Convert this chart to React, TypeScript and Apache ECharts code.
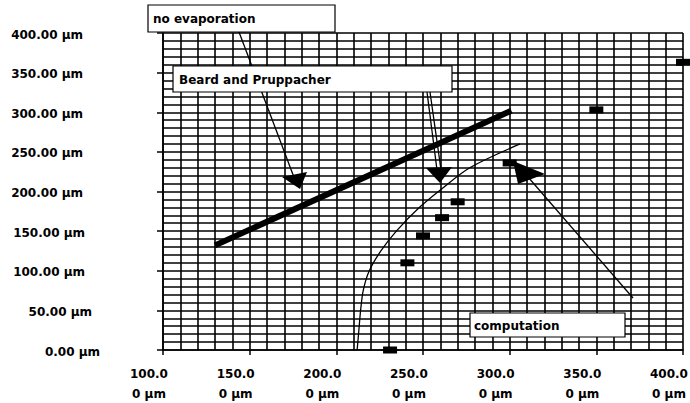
import React, { useEffect, useRef } from "react";
import * as echarts from "echarts";

// Data (µm)
const beardX = [130, 301];
const beardY = [132, 302];
const compX = [212, 213, 214, 215.5, 219, 226, 235, 248, 260, 277, 306];
const compY = [0, 25, 50, 75, 100, 126, 151, 180, 202, 230, 260];
const obsX = [231, 241, 250, 261, 270, 300, 350, 400];
const obsY = [0, 110, 144, 167, 187, 236, 303, 363];

const labelNoEvap = "no evaporation";
const labelBeard = "Beard and Pruppacher";
const labelComp = "computation";

const FONT = "DejaVu Sans";

export default function App() {
  const ref = useRef<HTMLDivElement>(null);
  useEffect(() => {
    if (!ref.current) return;
    const chart = echarts.init(ref.current, undefined, { renderer: "svg" });
    const gridLine = { color: "#000", width: 1.6 };
    const textBase = { fontFamily: FONT, fontWeight: "bold", fontSize: 12, color: "#000" };
    const boxStyle = { fill: "#fff", stroke: "#000", lineWidth: 1.2 };
    const lineStyle = { stroke: "#000", lineWidth: 1.3 };
    chart.setOption({
      animation: false,
      backgroundColor: "#fff",
      grid: { left: 163, right: 7, top: 33, bottom: 53, outerBoundsMode: "none", containLabel: false },
      xAxis: {
        type: "value",
        min: 100,
        max: 400,
        interval: 50,
        axisLine: { show: true, lineStyle: { color: "#000", width: 1.6 } },
        axisTick: { show: true, length: 5, lineStyle: { color: "#000", width: 1.5 } },
        splitLine: { show: true, lineStyle: gridLine },
        minorTick: { show: false, splitNumber: 5 },
        minorSplitLine: { show: true, lineStyle: gridLine },
        axisLabel: {
          ...textBase,
          margin: 14,
          lineHeight: 20,
          padding: [0, 28, 0, 0],
          formatter: (v: number) => `${v.toFixed(1)}\n0 µm`,
        },
      },
      yAxis: {
        type: "value",
        min: 0,
        max: 400,
        interval: 50,
        axisLine: { show: true, lineStyle: { color: "#000", width: 1.6 } },
        axisTick: { show: true, length: 6, lineStyle: { color: "#000", width: 1.5 } },
        splitLine: { show: true, lineStyle: gridLine },
        minorTick: { show: false, splitNumber: 5 },
        minorSplitLine: { show: true, lineStyle: gridLine },
        axisLabel: {
          ...textBase,
          margin: 63,
          padding: [3, 0, 0, 0],
          formatter: (v: number) => {
            const t = `{t|${v.toFixed(2)} µm}`;
            if (v === 0) return t;
            if (v === 50) return `${t}{g8| }`;
            if (v <= 150) return `${t}{g15| }`;
            return `${t}{g17| }`;
          },
          rich: {
            t: { ...textBase },
            g8: { ...textBase, width: 8 },
            g15: { ...textBase, width: 15 },
            g17: { ...textBase, width: 17 },
          },
        },
      },
      series: [
        {
          name: labelBeard,
          type: "line",
          data: beardX.map((x, i) => [x, beardY[i]]),
          showSymbol: false,
          lineStyle: { color: "#000", width: 6 },
          z: 5,
        },
        {
          name: labelComp,
          type: "line",
          data: compX.map((x, i) => [x, compY[i]]),
          showSymbol: false,
          smooth: 0.3,
          lineStyle: { color: "#000", width: 1.3 },
          z: 5,
        },
        {
          name: "measurement",
          type: "scatter",
          data: obsX.map((x, i) => [x, obsY[i]]),
          symbol: "rect",
          symbolSize: [14, 7],
          itemStyle: { color: "#000", opacity: 1 },
          clip: false,
          z: 6,
        },
      ],
      graphic: [
        { type: "line", z: 50, shape: { x1: 239, y1: 32, x2: 295, y2: 180 }, style: lineStyle },
        { type: "polygon", z: 55, shape: { points: [[282, 177], [307, 172], [300, 189]] }, style: { fill: "#000" } },
        { type: "line", z: 50, shape: { x1: 427, y1: 92, x2: 437, y2: 170 }, style: lineStyle },
        { type: "line", z: 50, shape: { x1: 430, y1: 92, x2: 441, y2: 170 }, style: lineStyle },
        { type: "polygon", z: 55, shape: { points: [[426, 168], [452, 167], [440, 183]] }, style: { fill: "#000" } },
        { type: "line", z: 50, shape: { x1: 633, y1: 298, x2: 528, y2: 177 }, style: lineStyle },
        { type: "polygon", z: 55, shape: { points: [[513, 161], [545, 174], [518, 184]] }, style: { fill: "#000" } },
        { type: "rect", z: 60, shape: { x: 148, y: 5, width: 187, height: 27 }, style: boxStyle },
        { type: "text", z: 61, x: 153, y: 19, style: { text: labelNoEvap, font: `bold 12px "${FONT}"`, fill: "#000", verticalAlign: "middle" } },
        { type: "rect", z: 60, shape: { x: 173, y: 66, width: 279, height: 26 }, style: boxStyle },
        { type: "text", z: 61, x: 179, y: 80, style: { text: labelBeard, font: `bold 12px "${FONT}"`, fill: "#000", verticalAlign: "middle" } },
        { type: "rect", z: 60, shape: { x: 470, y: 313, width: 155, height: 24 }, style: boxStyle },
        { type: "text", z: 61, x: 474, y: 326, style: { text: labelComp, font: `bold 12px "${FONT}"`, fill: "#000", verticalAlign: "middle" } },
      ],
    });
    return () => chart.dispose();
  }, []);
  return (
    <div
      ref={ref}
      style={{ position: "fixed", left: 0, top: 0, width: 690, height: 403, background: "#fff" }}
    />
  );
}
